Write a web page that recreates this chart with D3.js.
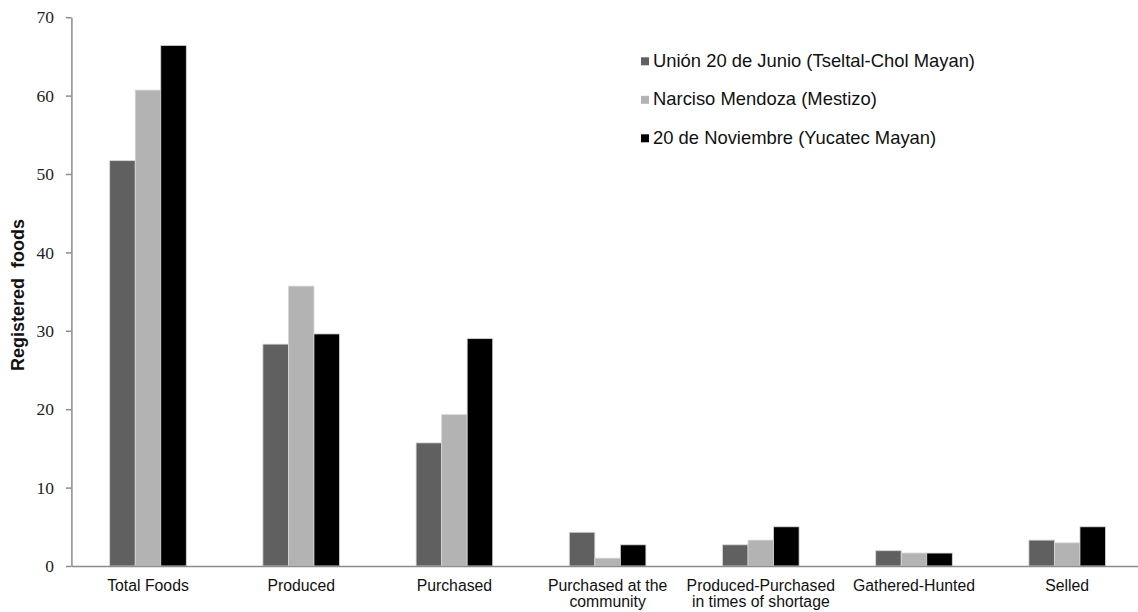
<!DOCTYPE html>
<html>
<head>
<meta charset="utf-8">
<script src="https://cdn.jsdelivr.net/npm/d3@7"></script>
<style>
  html, body { margin: 0; padding: 0; background: #fff; }
  svg { display: block; }
</style>
</head>
<body>
<svg id="chart" width="1138" height="612"></svg>
<script>
const categories = [
  ["Total Foods"],
  ["Produced"],
  ["Purchased"],
  ["Purchased at the", "community"],
  ["Produced-Purchased", "in times of shortage"],
  ["Gathered-Hunted"],
  ["Selled"]
];
const seriesNames = [
  "Unión 20 de Junio (Tseltal-Chol Mayan)",
  "Narciso Mendoza (Mestizo)",
  "20 de Noviembre (Yucatec Mayan)"
];
const union20 = [51.7, 28.3, 15.7, 4.3, 2.7, 1.95, 3.3];
const narciso = [60.7, 35.7, 19.3, 1.0, 3.3, 1.65, 2.95];
const noviembre = [66.4, 29.6, 29.0, 2.7, 5.0, 1.65, 5.0];
const yTicks = [0, 10, 20, 30, 40, 50, 60, 70];
const yTitle = "Registered\u00a0 foods";

const colors = ["#606060", "#b3b3b3", "#000000"];
const seriesValues = [union20, narciso, noviembre];

const svg = d3.select("#chart");
const x0 = 71.4, x1 = 1143.8, yBottom = 566, yTop = 17.2;

const catKeys = categories.map((c, i) => i);
const x = d3.scaleBand().domain(catKeys).range([x0, x1]).paddingInner(0.5).paddingOuter(0.25);
const xs = d3.scaleBand().domain([0, 1, 2]).range([0, x.bandwidth()]).padding(0);
const y = d3.scaleLinear().domain([0, 70]).range([yBottom, yTop]);

// bars
const g = svg.append("g");
catKeys.forEach(ci => {
  seriesValues.forEach((vals, si) => {
    g.append("rect")
      .attr("x", x(ci) + xs(si))
      .attr("y", y(vals[ci]))
      .attr("width", xs.bandwidth())
      .attr("height", y(0) - y(vals[ci]))
      .attr("fill", colors[si])
      .attr("stroke", "#d6d6d6")
      .attr("stroke-width", 0.8);
  });
});

// y axis
const yAxis = d3.axisLeft(y).tickValues(yTicks).tickSize(5.5).tickPadding(12).tickSizeOuter(0);
const ya = svg.append("g").attr("transform", `translate(${x0},0)`).call(yAxis);
ya.select(".domain").attr("stroke", "#8c8c8c").attr("stroke-width", 1.5);
ya.selectAll(".tick line").attr("stroke", "#8c8c8c").attr("stroke-width", 1.5);
ya.selectAll(".tick text")
  .attr("font-family", "'Liberation Serif', 'DejaVu Serif', serif")
  .attr("font-size", 17.5)
  .attr("fill", "#222");

// x axis
const xAxis = d3.axisBottom(x).tickSize(0).tickFormat("");
const xa = svg.append("g").attr("transform", `translate(0,${yBottom})`).call(xAxis);
xa.select(".domain").attr("stroke", "#8c8c8c").attr("stroke-width", 1.5);
xa.selectAll(".tick").each(function(d) {
  const t = d3.select(this).append("text")
    .attr("text-anchor", "middle")
    .attr("font-family", "'Liberation Sans', Arial, sans-serif")
    .attr("font-size", 15.8)
    .attr("fill", "#111");
  categories[d].forEach((line, li) => {
    t.append("tspan").attr("x", 0).attr("y", 25 + li * 16).text(line);
  });
});

// y title
svg.append("text")
  .attr("transform", `translate(24, 295) rotate(-90)`)
  .attr("text-anchor", "middle")
  .attr("font-family", "'Liberation Sans', Arial, sans-serif")
  .attr("font-weight", "bold")
  .attr("font-size", 18)
  .attr("fill", "#111")
  .text(yTitle);

// legend
const legend = svg.append("g");
seriesNames.forEach((name, i) => {
  const cy = 61.3 + i * 38.5;
  legend.append("rect").attr("x", 641).attr("y", cy - 4).attr("width", 8).attr("height", 8).attr("fill", colors[i]);
  legend.append("text")
    .attr("x", 653).attr("y", cy + 5.5)
    .attr("font-family", "'Liberation Sans', Arial, sans-serif")
    .attr("font-size", 18.4)
    .attr("fill", "#111")
    .text(name);
});
</script>
</body>
</html>
